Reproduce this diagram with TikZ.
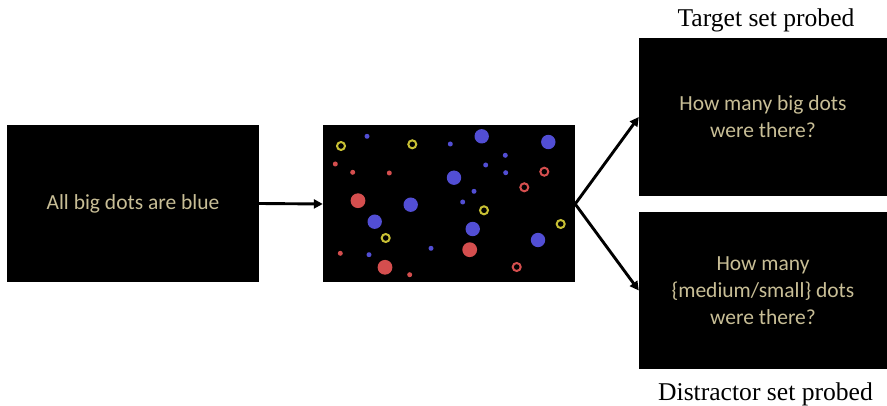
\documentclass[tikz,border=0pt]{standalone}
\usepackage{fontspec}
\setmainfont{Carlito}
\newfontfamily\capfont{Liberation Serif}
\usetikzlibrary{arrows.meta}
\definecolor{cuetext}{RGB}{200,190,150}
\definecolor{dotblue}{RGB}{82,78,212}
\definecolor{dotred}{RGB}{212,78,78}
\definecolor{dotyellow}{RGB}{200,192,52}

\begin{document}
\begin{tikzpicture}
	[x=1pt, y=-1pt,
	 screen/.style={rectangle, fill=black, text=cuetext, align=center, inner sep=0pt,
	   minimum width=252pt, minimum height=157pt, font=\fontsize{21.5}{27}\selectfont},
	 flow/.style={line width=2.9pt, -{Triangle[length=9pt, width=9pt]}},
	 caption/.style={anchor=base, font=\capfont\fontsize{25.6}{30}\selectfont},
	 ring/.style={line width=2pt}]
	\useasboundingbox (0,0) rectangle (887,406);
	\node[screen] (cue) at (133,203.5) {All big dots are blue};
	\node[screen] (dots) at (449,204) {};
	\node[screen, minimum width=248pt, minimum height=158pt] (target) at (763,117) {How many big dots\\were there?};
	\node[screen, minimum width=248pt] (distractor) at (763,290.5) {How many\\\{medium/small\} dots\\were there?};
	\node[caption] (targetlabel) at (766,26.5) {Target set probed};
	\node[caption] (distractorlabel) at (765.5,400.5) {Distractor set probed};
	\foreach \x/\y in {481.7/136.3, 548.3/142, 454/177.7, 410.7/204.7, 374.7/221.7, 472.7/229, 538/240}
		\fill[dotblue] (\x,\y) circle[radius=7.2pt];
	\foreach \x/\y in {367/136.3, 450.3/144, 505.3/155.3, 485.7/165, 505.7/172.7, 474/191.3, 462.7/202, 431/248.3, 369/254.7}
		\fill[dotblue] (\x,\y) circle[radius=2.5pt];
	\foreach \x/\y in {358/200.7, 469.7/249.7, 385/267.3}
		\fill[dotred] (\x,\y) circle[radius=7.4pt];
	\foreach \x/\y in {335.3/164, 352.7/172.3, 389.3/173, 340.3/253.3, 409.7/274.7}
		\fill[dotred] (\x,\y) circle[radius=2.5pt];
	\foreach \x/\y in {544.3/171.7, 524.3/187.3, 516.7/267}
		\draw[ring, dotred] (\x,\y) circle[radius=4pt];
	\foreach \x/\y in {341/146, 412.3/144.3, 385.7/238, 484/210.3, 560.7/224}
		\draw[ring, dotyellow] (\x,\y) circle[radius=4pt];
	\draw[flow] (cue.east) -- (dots.west);
	\draw[flow] (dots.east) -- (target.west);
	\draw[flow] (dots.east) -- (distractor.west);
\end{tikzpicture}
\end{document}
